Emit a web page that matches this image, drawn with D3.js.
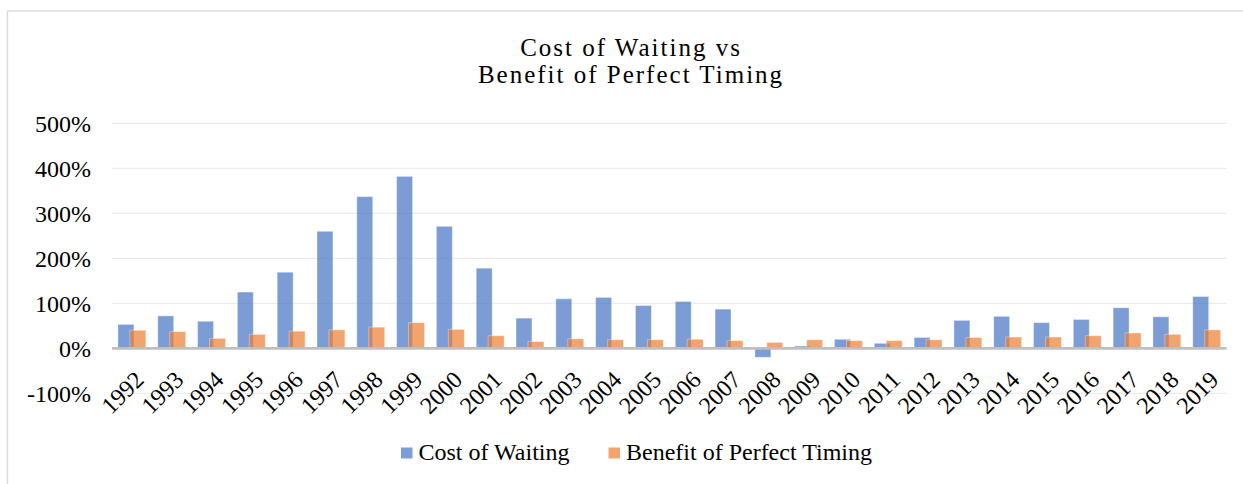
<!DOCTYPE html>
<html><head><meta charset="utf-8">
<script src="https://cdn.jsdelivr.net/npm/d3@7"></script>
<style>
html,body{margin:0;padding:0;background:#fff;}
svg{display:block;}
</style></head>
<body>
<svg id="chart" width="1243" height="484"></svg>
<script>
const years = ["1992","1993","1994","1995","1996","1997","1998","1999","2000","2001","2002","2003","2004","2005","2006","2007","2008","2009","2010","2011","2012","2013","2014","2015","2016","2017","2018","2019"];
const costOfWaiting = [53,72,60,125,169,260,337,382,271,178,67,110,113,95,104,87,-20,5,20,11,24,62,71,57,64,90,70,115];
const benefitOfTiming = [40,37,22,31,38,41,47,57,42,28,15,21,19,19,20,17,13,19,17,17,19,24,25,25,28,34,31,41];
const yTicks = [-100,0,100,200,300,400,500];
const seriesNames = ["Cost of Waiting","Benefit of Perfect Timing"];
const colors = ["#4472C4","#ED7D31"];
const FONT = "'Liberation Serif', 'Times New Roman', serif";

const svg = d3.select("#chart").style("font-family", FONT);
// frame
svg.append("rect").attr("x",7.5).attr("y",11).attr("width",1300).attr("height",600)
  .attr("fill","none").attr("stroke","#d9d9d9").attr("stroke-width",1.3);

// title
const title = svg.append("text").attr("text-anchor","middle").style("font-family",FONT).style("font-size","25px")
  .attr("letter-spacing","2px").attr("fill","#000");
title.append("tspan").attr("x",631).attr("y",55.5).text("Cost of Waiting vs");
title.append("tspan").attr("x",631).attr("y",82.5).text("Benefit of Perfect Timing");

const x = d3.scaleBand().domain(years).range([112,1226.6]).padding(0);
const y = d3.scaleLinear().domain([-100,500]).range([393.3,123.3]);

// grid
svg.append("g").selectAll("line").data(yTicks.filter(d=>d!==0)).join("line")
  .attr("x1",112).attr("x2",1226.6).attr("y1",d=>y(d)).attr("y2",d=>y(d))
  .attr("stroke","#ececec").attr("stroke-width",1.3);

// y labels
const yAxis = d3.axisLeft(y).tickValues(yTicks).tickFormat(d=>d+"%").tickSize(0).tickPadding(0);
const yg = svg.append("g").attr("transform","translate(91,0)").call(yAxis);
yg.select(".domain").remove();
yg.attr("font-family",null).attr("font-size",null).style("font-family",FONT);
yg.selectAll("text").style("font-family",FONT).style("font-size","24px").attr("fill","#000").attr("dy","0.35em");

const bw = x.bandwidth();
const w = bw*0.4;
const series = [costOfWaiting, benefitOfTiming];
series.forEach((vals,si)=>{
  svg.append("g").selectAll("rect").data(vals).join("rect")
    .attr("x",(d,i)=>x(years[i]) + bw/2 - 0.875*w + si*0.75*w)
    .attr("width",w)
    .attr("y",d=>y(Math.max(0,d)))
    .attr("height",d=>Math.abs(y(d)-y(0)))
    .attr("fill",colors[si]).attr("fill-opacity",0.7)
    .attr("stroke","#fff").attr("stroke-opacity",0.35).attr("stroke-width",1);
});

// zero line
svg.append("line").attr("x1",112).attr("x2",1226.6).attr("y1",y(0)).attr("y2",y(0))
  .attr("stroke","#bfbfbf").attr("stroke-width",2.7);

// x labels
const xAxis = d3.axisBottom(x).tickSize(0).tickPadding(0);
const xg = svg.append("g").attr("transform","translate(0,"+(y(0)+21)+")").call(xAxis);
xg.select(".domain").remove();
xg.attr("font-family",null).attr("font-size",null).style("font-family",FONT);
xg.selectAll("text").style("font-family",FONT).style("font-size","24px").attr("fill","#000")
  .attr("text-anchor","end").attr("dy","0.7em")
  .attr("transform","translate(1.5,0) rotate(-45)");

// legend
const leg = svg.append("g");
const legItems = [{name:seriesNames[0],c:colors[0],x:401},{name:seriesNames[1],c:colors[1],x:608.5}];
legItems.forEach(it=>{
  leg.append("rect").attr("x",it.x).attr("y",447.5).attr("width",11.5).attr("height",11)
    .attr("fill",it.c).attr("fill-opacity",0.7);
  leg.append("text").attr("x",it.x+17.5).attr("y",460).style("font-family",FONT).style("font-size","24px").attr("fill","#000").text(it.name);
});
</script>
</body></html>
